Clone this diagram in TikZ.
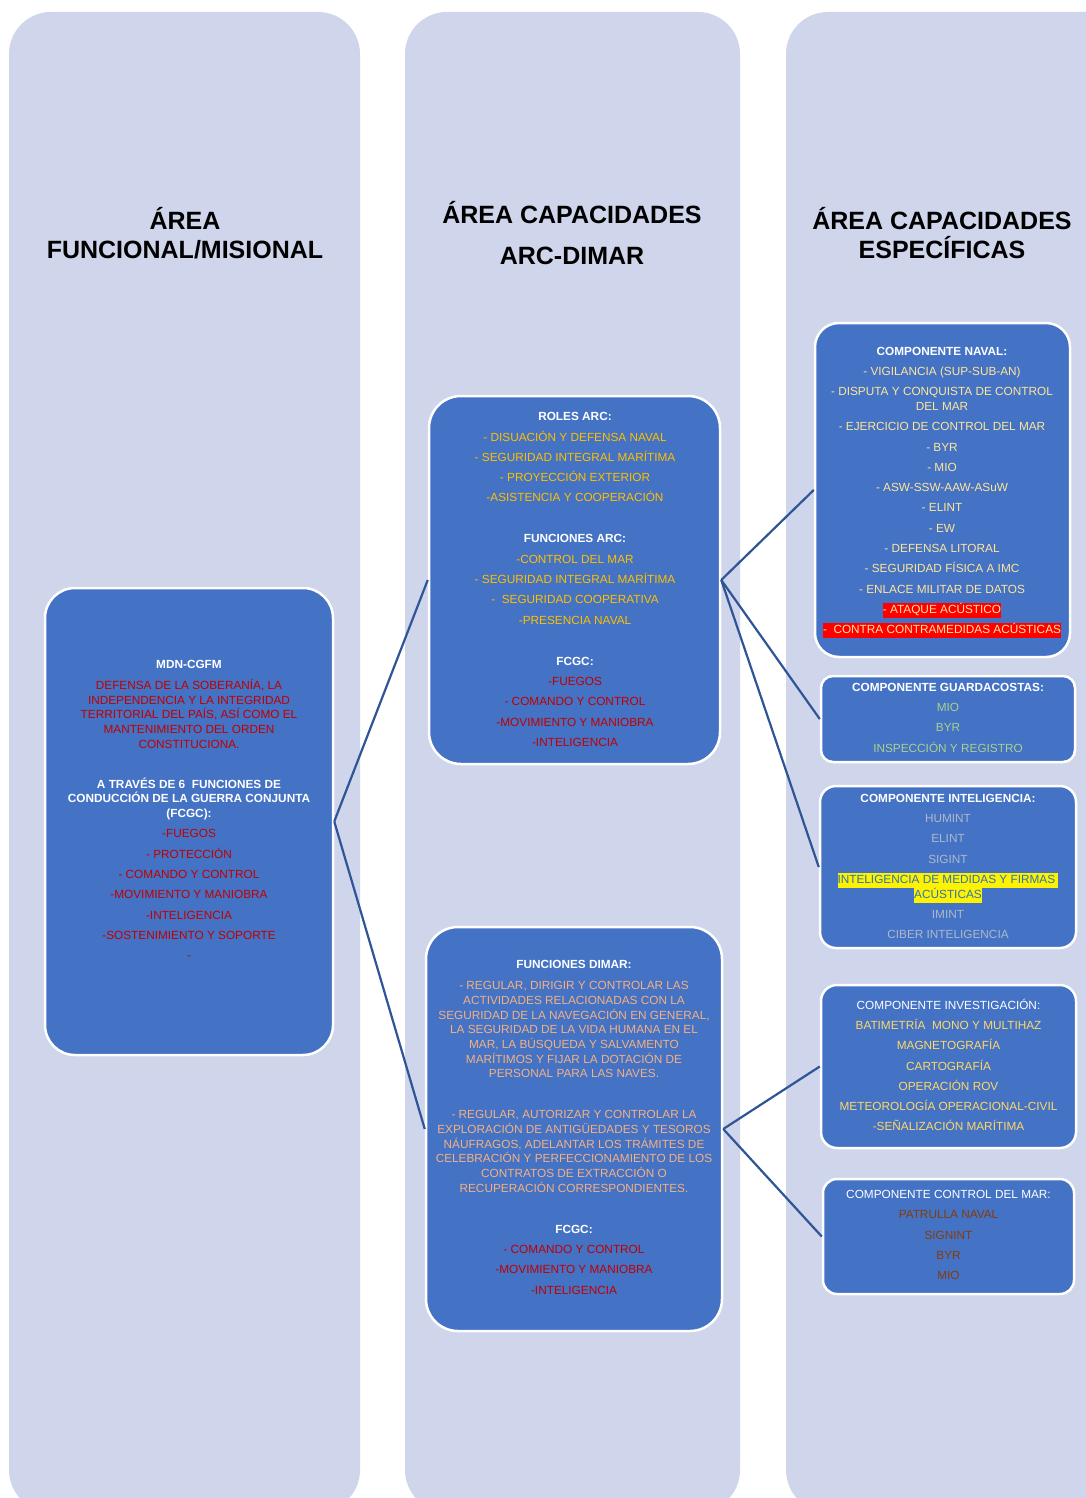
\documentclass[tikz,border=0pt]{standalone}
\usepackage{fontspec}
\setmainfont{Liberation Sans}
\definecolor{colbg}{HTML}{CFD5EA}
\definecolor{boxblue}{HTML}{4472C4}
\definecolor{linkblue}{HTML}{2F5597}
\definecolor{cgold}{HTML}{FFC000}
\definecolor{cred}{HTML}{C00000}
\definecolor{cpeach}{HTML}{F4B183}
\definecolor{cpale}{HTML}{FFE699}
\definecolor{cgreen}{HTML}{A9D18E}
\definecolor{cgray}{HTML}{ADB9CA}
\definecolor{cyel}{HTML}{FFD966}
\definecolor{cbrown}{HTML}{843C0C}
\definecolor{hlblue}{HTML}{2E75B6}
\newcommand\Hd[1]{\textbf{\color{white}#1}}
\newcommand\Wt[1]{{\color{white}#1}}
\newcommand\Gd[1]{{\color{cgold}#1}}
\newcommand\Rd[1]{{\color{cred}#1}}
\newcommand\Pc[1]{{\color{cpeach}#1}}
\newcommand\Pl[1]{{\color{cpale}#1}}
\newcommand\Gn[1]{{\color{cgreen}#1}}
\newcommand\Gy[1]{{\color{cgray}#1}}
\newcommand\Yw[1]{{\color{cyel}#1}}
\newcommand\Bn[1]{{\color{cbrown}#1}}
\newcommand\RedHl[1]{{\fboxsep=0pt\colorbox{red}{\strut\color{cpale}#1}}}
\newcommand\YelHl[1]{{\fboxsep=0pt\colorbox{yellow}{\strut\color{hlblue}#1}}}
\tikzset{
  column/.style={fill=colbg, rounded corners=42pt},
  bluebox/.style={draw=white, line width=2.5pt, fill=boxblue, inner sep=0pt},
  boxtext/.style={align=center, inner sep=0pt, font=\fontsize{11.8}{14.7}\selectfont},
  header/.style={align=center, inner sep=0pt, font=\fontsize{25}{28.5}\selectfont\bfseries},
  link/.style={draw=linkblue, line width=2.2pt}
}
\begin{document}
\begin{tikzpicture}[x=1pt,y=-1pt]
\useasboundingbox (0,0) rectangle (1086,1498);
\clip (0,0) rectangle (1086,1498);
\fill[white] (0,0) rectangle (1086,1498);
% columns
\fill[column] (9,12) rectangle (360,1512);
\fill[column] (405,12) rectangle (740,1512);
\fill[column] (786,12) rectangle (1130,1512);
% headers
\node[header] (h1) at (185,233) {ÁREA\\FUNCIONAL/MISIONAL};
\node[header] (h2) at (572,233.5) {ÁREA CAPACIDADES\\[12.5pt]ARC-DIMAR};
\node[header] (h3) at (942,233) {ÁREA CAPACIDADES\\ESPECÍFICAS};
% boxes
\node[bluebox, minimum width=288pt, minimum height=467pt, rounded corners=30pt] (mdn) at (189,821.5) {};
\node[bluebox, minimum width=291pt, minimum height=368pt, rounded corners=32pt] (arc) at (574.5,580) {};
\node[bluebox, minimum width=296pt, minimum height=404pt, rounded corners=32pt] (dimar) at (574,1129) {};
\node[bluebox, minimum width=255pt, minimum height=334pt, rounded corners=24pt] (naval) at (942.5,490) {};
\node[bluebox, minimum width=254pt, minimum height=86pt, rounded corners=12pt] (guarda) at (948,719) {};
\node[bluebox, minimum width=256pt, minimum height=162pt, rounded corners=16pt] (intel) at (948,867) {};
\node[bluebox, minimum width=255pt, minimum height=163pt, rounded corners=16pt] (invest) at (948.5,1066.5) {};
\node[bluebox, minimum width=251pt, minimum height=115pt, rounded corners=14pt] (control) at (948.5,1236.5) {};
% texts
\node[boxtext] (tmdn) at (189,810) {%
\Hd{MDN-CGFM}\\[6.3pt]
\Rd{DEFENSA DE LA SOBERANÍA, LA}\\
\Rd{INDEPENDENCIA Y LA INTEGRIDAD}\\
\Rd{TERRITORIAL DEL PAÍS, ASÍ COMO EL}\\
\Rd{MANTENIMIENTO DEL ORDEN}\\
\Rd{CONSTITUCIONA.}\\[25.3pt]
\Hd{A TRAVÉS DE 6~~FUNCIONES DE}\\
\Hd{CONDUCCIÓN DE LA GUERRA CONJUNTA}\\
\Hd{(FCGC):}\\[5.6pt]
\Rd{-FUEGOS}\\[5.6pt]
\Rd{- PROTECCIÓN}\\[5.6pt]
\Rd{- COMANDO Y CONTROL}\\[5.6pt]
\Rd{-MOVIMIENTO Y MANIOBRA}\\[5.6pt]
\Rd{-INTELIGENCIA}\\[5.6pt]
\Rd{-SOSTENIMIENTO Y SOPORTE}\\[5.6pt]
\Rd{-}};
\node[boxtext] (tarc) at (575,579.5) {%
\Hd{ROLES ARC:}\\[5.6pt]
\Gd{- DISUACIÓN Y DEFENSA NAVAL}\\[5.6pt]
\Gd{- SEGURIDAD INTEGRAL MARÍTIMA}\\[5.6pt]
\Gd{- PROYECCIÓN EXTERIOR}\\[5.6pt]
\Gd{-ASISTENCIA Y COOPERACIÓN}\\[26.3pt]
\Hd{FUNCIONES ARC:}\\[5.6pt]
\Gd{-CONTROL DEL MAR}\\[5.6pt]
\Gd{- SEGURIDAD INTEGRAL MARÍTIMA}\\[5.6pt]
\Gd{-~~SEGURIDAD COOPERATIVA}\\[5.6pt]
\Gd{-PRESENCIA NAVAL}\\[26.3pt]
\Hd{FCGC:}\\[5.6pt]
\Rd{-FUEGOS}\\[5.6pt]
\Rd{- COMANDO Y CONTROL}\\[5.6pt]
\Rd{-MOVIMIENTO Y MANIOBRA}\\[5.6pt]
\Rd{-INTELIGENCIA}};
\node[boxtext] (tdimar) at (574,1127.5) {%
\Hd{FUNCIONES DIMAR:}\\[6pt]
\Pc{- REGULAR, DIRIGIR Y CONTROLAR LAS}\\
\Pc{ACTIVIDADES RELACIONADAS CON LA}\\
\Pc{SEGURIDAD DE LA NAVEGACIÓN EN GENERAL,}\\
\Pc{LA SEGURIDAD DE LA VIDA HUMANA EN EL}\\
\Pc{MAR, LA BÚSQUEDA Y SALVAMENTO}\\
\Pc{MARÍTIMOS Y FIJAR LA DOTACIÓN DE}\\
\Pc{PERSONAL PARA LAS NAVES.}\\[26.3pt]
\Pc{- REGULAR, AUTORIZAR Y CONTROLAR LA}\\
\Pc{EXPLORACIÓN DE ANTIGÜEDADES Y TESOROS}\\
\Pc{NÁUFRAGOS, ADELANTAR LOS TRÁMITES DE}\\
\Pc{CELEBRACIÓN Y PERFECCIONAMIENTO DE LOS}\\
\Pc{CONTRATOS DE EXTRACCIÓN O}\\
\Pc{RECUPERACIÓN CORRESPONDIENTES.}\\[26.3pt]
\Hd{FCGC:}\\[5.6pt]
\Rd{- COMANDO Y CONTROL}\\[5.6pt]
\Rd{-MOVIMIENTO Y MANIOBRA}\\[5.6pt]
\Rd{-INTELIGENCIA}};
\node[boxtext] (tnaval) at (942,492.5) {%
\Hd{COMPONENTE NAVAL:}\\[5.6pt]
\Pl{- VIGILANCIA (SUP-SUB-AN)}\\[5.6pt]
\Pl{- DISPUTA Y CONQUISTA DE CONTROL}\\
\Pl{DEL MAR}\\[5.6pt]
\Pl{- EJERCICIO DE CONTROL DEL MAR}\\[5.6pt]
\Pl{- BYR}\\[5.6pt]
\Pl{- MIO}\\[5.6pt]
\Pl{- ASW-SSW-AAW-ASuW}\\[5.6pt]
\Pl{- ELINT}\\[5.6pt]
\Pl{- EW}\\[5.6pt]
\Pl{- DEFENSA LITORAL}\\[5.6pt]
\Pl{- SEGURIDAD FÍSICA A IMC}\\[5.6pt]
\Pl{- ENLACE MILITAR DE DATOS}\\[5.6pt]
\RedHl{- ATAQUE ACÚSTICO}\\[5.6pt]
\RedHl{-~~CONTRA CONTRAMEDIDAS ACÚSTICAS}};
\node[boxtext] (tguarda) at (948,717.5) {%
\Hd{COMPONENTE GUARDACOSTAS:}\\[5.6pt]
\Gn{MIO}\\[5.6pt]
\Gn{BYR}\\[5.6pt]
\Gn{INSPECCIÓN Y REGISTRO}};
\node[boxtext] (tintel) at (948,866.5) {%
\Hd{COMPONENTE INTELIGENCIA:}\\[5.6pt]
\Gy{HUMINT}\\[5.6pt]
\Gy{ELINT}\\[5.6pt]
\Gy{SIGINT}\\[5.6pt]
\YelHl{INTELIGENCIA DE MEDIDAS Y FIRMAS~}\\
\YelHl{ACÚSTICAS}\\[5.6pt]
\Gy{IMINT}\\[5.6pt]
\Gy{CIBER INTELIGENCIA}};
\node[boxtext] (tinvest) at (948.5,1065) {%
\Wt{COMPONENTE INVESTIGACIÓN:}\\[5.6pt]
\Yw{BATIMETRÍA~~MONO Y MULTIHAZ}\\[5.6pt]
\Yw{MAGNETOGRAFÍA}\\[5.6pt]
\Yw{CARTOGRAFÍA}\\[5.6pt]
\Yw{OPERACIÓN ROV}\\[5.6pt]
\Yw{METEOROLOGÍA OPERACIONAL-CIVIL}\\[5.6pt]
\Yw{-SEÑALIZACIÓN MARÍTIMA}};
\node[boxtext] (tcontrol) at (948.5,1235) {%
\Wt{COMPONENTE CONTROL DEL MAR:}\\[5.6pt]
\Bn{PATRULLA NAVAL}\\[5.6pt]
\Bn{SIGNINT}\\[5.6pt]
\Bn{BYR}\\[5.6pt]
\Bn{MIO}};
% connectors
\draw[link] (mdn.east) -- (arc.west);
\draw[link] (mdn.east) -- (dimar.west);
\draw[link] (arc.east) -- (naval.west);
\draw[link] (arc.east) -- (guarda.west);
\draw[link] (arc.east) -- (intel.west);
\draw[link] (dimar.east) -- (invest.west);
\draw[link] (dimar.east) -- (control.west);
\end{tikzpicture}
\end{document}
